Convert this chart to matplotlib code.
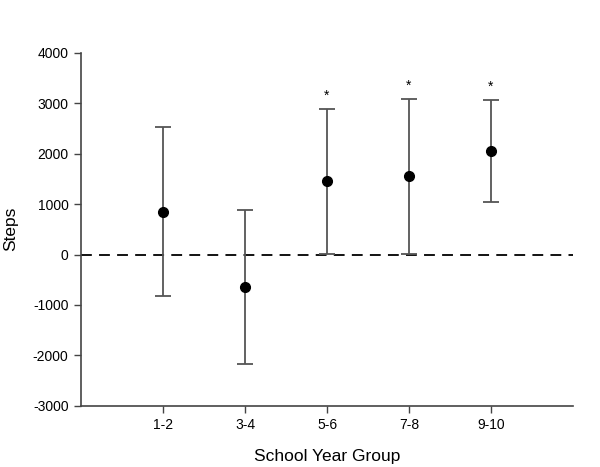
import matplotlib
matplotlib.use("Agg")
import matplotlib.pyplot as plt

groups = ["1-2", "3-4", "5-6", "7-8", "9-10"]
means = [840, -650, 1450, 1560, 2050]
upper = [2520, 880, 2880, 3090, 3060]
lower = [-830, -2170, 10, 10, 1040]
significant = [False, False, True, True, True]

plt.rcParams['font.family'] = ['Liberation Sans', 'DejaVu Sans']
plt.rcParams['axes.unicode_minus'] = False

fig = plt.figure(figsize=(6, 4.67), dpi=100)
ax = fig.add_axes([0.135, 0.131, 0.82, 0.756])

xs = list(range(1, len(groups) + 1))
yerr = [[m - l for m, l in zip(means, lower)], [u - m for m, u in zip(means, upper)]]

ax.axhline(0, color='black', lw=1.3, ls=(0, (6, 4)), zorder=1)
ax.errorbar(xs, means, yerr=yerr, fmt='o', color='black', ms=7,
            ecolor='#555555', elinewidth=1.3, capsize=5.5, capthick=1.3, zorder=3)
for x, u, s in zip(xs, upper, significant):
    if s:
        ax.text(x, u + 120, '*', ha='center', va='bottom', fontsize=10)

ax.set_xlim(0, 6)
ax.set_ylim(-3000, 4000)
ax.set_xticks(xs)
ax.set_xticklabels(groups)
ax.set_yticks(range(-3000, 4001, 1000))
ax.tick_params(direction='out', length=5, width=1, color='#444444', labelsize=10, pad=4)
for s in ['top', 'right']:
    ax.spines[s].set_visible(False)
for s in ['left', 'bottom']:
    ax.spines[s].set_color('#444444')
    ax.spines[s].set_linewidth(1.2)

ax.set_xlabel('School Year Group', fontsize=12.5, labelpad=12)
ax.set_ylabel('Steps', fontsize=12.5)
ax.yaxis.set_label_coords(-0.127, 0.5)

fig.savefig('out.png', dpi=100)
